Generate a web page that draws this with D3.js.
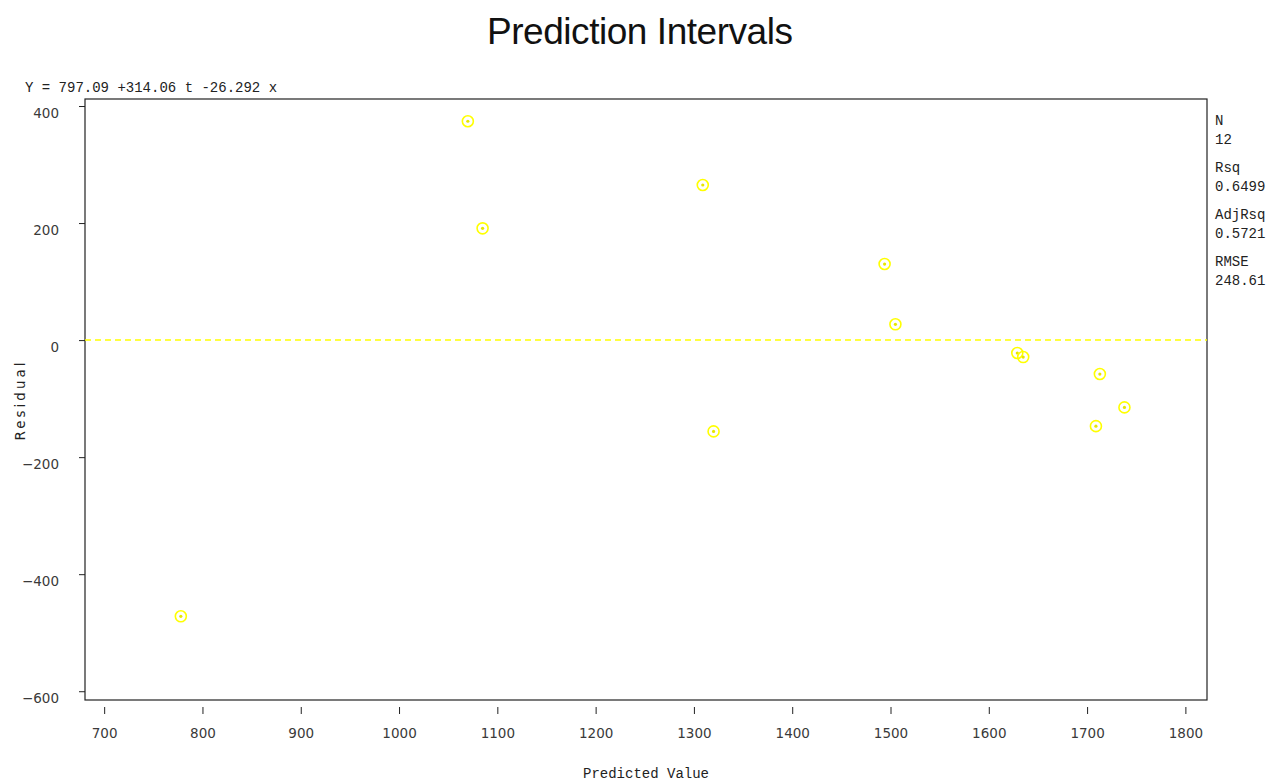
<!DOCTYPE html>
<html>
<head>
    <meta charset="utf-8">
    <title>Prediction Intervals</title>
    <style>
        body { margin: 0; background: white; }
        .tick text { font-family: "DejaVu Sans", sans-serif; font-size: 13.5px; fill: #3a3a3a; }
        .mono { font-family: "Courier New", "Liberation Mono", monospace; font-size: 14px; fill: #222; }
    </style>
    <script src="https://d3js.org/d3.v7.min.js"></script>
</head>
<body>
<div id="chart"></div>
<script>
    // predicted values and residuals
    var predicted = [1070, 1085, 1309, 1320, 1494, 1505, 1629, 1635, 1713, 1709, 1738, 778];
    var residuals = [374, 191, 265, -156, 130, 27, -22, -29, -58, -147, -115, -472];

    var xTicks = [700, 800, 900, 1000, 1100, 1200, 1300, 1400, 1500, 1600, 1700, 1800];
    var yTicks = [400, 200, 0, -200, -400, -600];

    var statNames = ["N", "Rsq", "AdjRsq", "RMSE"];
    var statValues = ["12", "0.6499", "0.5721", "248.61"];

    var equation = "Y = 797.09 +314.06 t -26.292 x";

    var W = 1287, H = 783;
    var margin = { top: 99, right: 80, bottom: 83, left: 85 };
    var width = W - margin.left - margin.right;
    var height = H - margin.top - margin.bottom;

    var svg = d3.select("#chart").append("svg")
        .attr("width", W)
        .attr("height", H);

    // title
    svg.append("text")
        .attr("x", 640).attr("y", 44)
        .attr("text-anchor", "middle")
        .attr("font-family", "Liberation Sans, Arial, sans-serif")
        .attr("font-size", 37)
        .attr("textLength", 306)
        .attr("fill", "#111")
        .text("Prediction Intervals");

    svg.append("text")
        .attr("class", "mono")
        .attr("x", 25).attr("y", 92)
        .text(equation);

    var g = svg.append("g")
        .attr("transform", "translate(" + margin.left + "," + margin.top + ")");

    var x = d3.scaleLinear().domain([680.5, 1822]).range([0, width]);
    var y = d3.scaleLinear().domain([412, -615]).range([0, height]);

    // frame
    g.append("rect")
        .attr("width", width).attr("height", height)
        .attr("fill", "none").attr("stroke", "#222").attr("stroke-width", 1.2);

    var xAxis = g.append("g")
        .attr("transform", "translate(0," + height + ")")
        .call(d3.axisBottom(x).tickValues(xTicks).tickSize(-7).tickPadding(28).tickFormat(d3.format("d")));
    xAxis.select(".domain").remove();
    xAxis.selectAll(".tick line").attr("transform", "translate(0,14)").attr("stroke", "#222");

    var yAxis = g.append("g")
        .call(d3.axisLeft(y).tickValues(yTicks).tickSize(6).tickPadding(20)
            .tickFormat(function (d) { return d < 0 ? "\u2212" + Math.abs(d) : d; }));
    yAxis.select(".domain").remove();
    yAxis.selectAll(".tick text").attr("dy", "0.85em");
    yAxis.selectAll(".tick line").attr("stroke", "#222");

    // axis labels
    svg.append("text")
        .attr("class", "mono")
        .attr("x", 646).attr("y", 778)
        .attr("text-anchor", "middle")
        .attr("font-size", 14.5)
        .text("Predicted Value");

    svg.append("text")
        .attr("transform", "translate(25,400) rotate(-90)")
        .attr("text-anchor", "middle")
        .attr("font-family", "DejaVu Sans, sans-serif")
        .attr("font-size", 13.5)
        .attr("letter-spacing", 3)
        .attr("fill", "#222")
        .text("Residual");

    // zero reference line
    g.append("line")
        .attr("x1", 0).attr("x2", width)
        .attr("y1", y(0)).attr("y2", y(0))
        .attr("stroke", "#ffff00").attr("stroke-width", 1.5)
        .attr("stroke-dasharray", "6,4");

    // points
    var pts = g.selectAll(".pt").data(predicted).enter().append("g")
        .attr("transform", function (d, i) { return "translate(" + x(d) + "," + y(residuals[i]) + ")"; });
    pts.append("circle").attr("r", 5.5)
        .attr("fill", "none").attr("stroke", "#ffff00").attr("stroke-width", 1.6);
    pts.append("circle").attr("r", 1.6).attr("fill", "#e6e600");

    // stats box on right
    var stats = svg.append("g").attr("transform", "translate(1215,0)");
    statNames.forEach(function (s, i) {
        stats.append("text").attr("class", "mono")
            .attr("y", 125 + i * 47).attr("font-size", 13).text(s);
        stats.append("text").attr("class", "mono")
            .attr("y", 144 + i * 47).attr("font-size", 14.5).text(statValues[i]);
    });
</script>
</body>
</html>
